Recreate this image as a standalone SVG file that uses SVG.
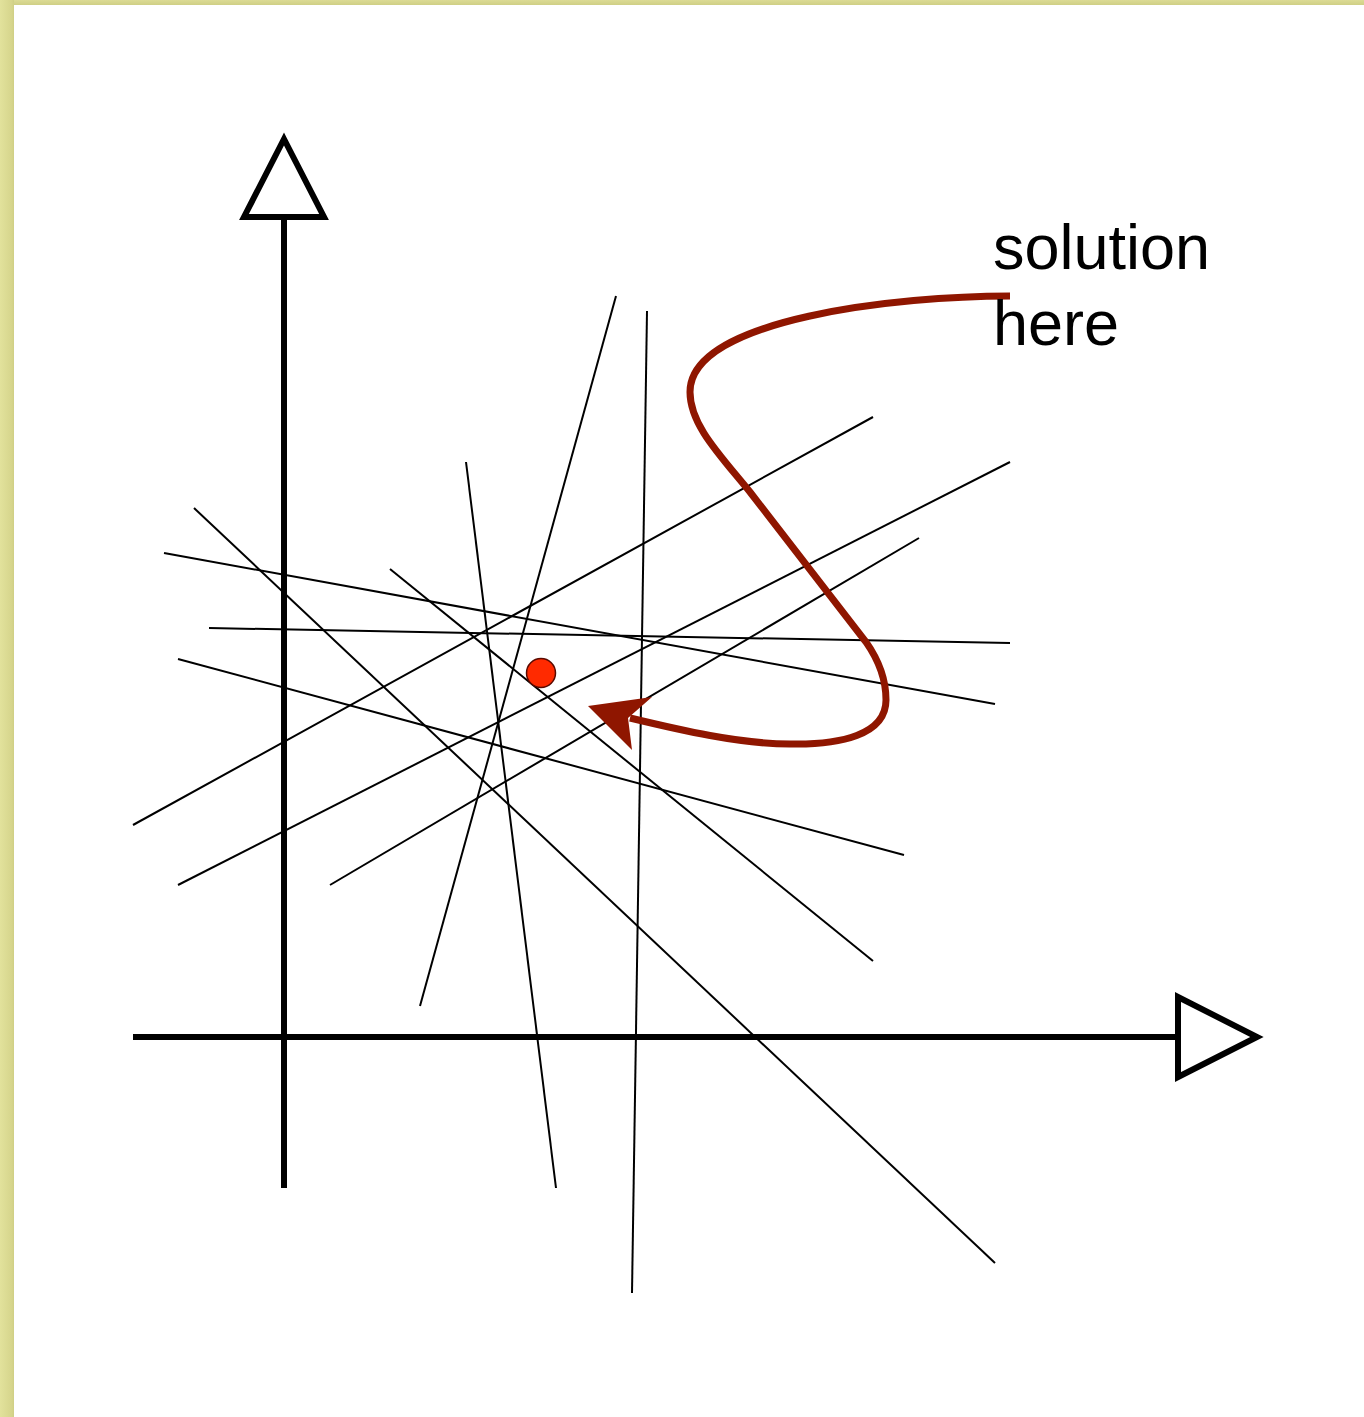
<svg xmlns="http://www.w3.org/2000/svg" width="1364" height="1417" viewBox="0 0 1364 1417">
  <defs>
    <linearGradient id="gl" x1="0" y1="0" x2="1" y2="0">
      <stop offset="0" stop-color="#e2e29c"/>
      <stop offset="0.85" stop-color="#d6d58c"/>
      <stop offset="1" stop-color="#cfcf85"/>
    </linearGradient>
    <linearGradient id="gt" x1="0" y1="0" x2="0" y2="1">
      <stop offset="0" stop-color="#dcdb95"/>
      <stop offset="1" stop-color="#cfcf85"/>
    </linearGradient>
    <style>
      .axis { stroke: #000; stroke-width: 6; fill: none; }
      .head { stroke: #000; stroke-width: 6; fill: #fff; stroke-linejoin: miter; }
      .ln { stroke: #000; stroke-width: 2; fill: none; }
      .curve { stroke: #8f1600; stroke-width: 7; fill: none; stroke-linecap: butt; }
      .lbl { font-family: "Liberation Sans", Arial, sans-serif; font-size: 63px; fill: #000; }
    </style>
  </defs>
  <rect x="0" y="0" width="1364" height="1417" fill="#ffffff"/>
  <rect x="0" y="0" width="1364" height="5" fill="url(#gt)"/>
  <rect x="0" y="0" width="14" height="1417" fill="url(#gl)"/>

  <g id="axes">
    <line class="axis" x1="284" y1="1188" x2="284" y2="217"/>
    <polygon class="head" points="284,139 324,217 244,217"/>
    <line class="axis" x1="133" y1="1037" x2="1178" y2="1037"/>
    <polygon class="head" points="1178,997 1257,1037 1178,1077"/>
  </g>

  <g id="connectors">
    <line class="ln" x1="616" y1="296" x2="420" y2="1006"/>
    <line class="ln" x1="647" y1="311" x2="632" y2="1293"/>
    <line class="ln" x1="873" y1="417" x2="133" y2="825"/>
    <line class="ln" x1="1010" y1="462" x2="178" y2="885"/>
    <line class="ln" x1="919" y1="538" x2="330" y2="885"/>
    <line class="ln" x1="466" y1="462" x2="556" y2="1188"/>
    <line class="ln" x1="194" y1="508" x2="995" y2="1263"/>
    <line class="ln" x1="164" y1="553" x2="995" y2="704"/>
    <line class="ln" x1="209" y1="628" x2="1010" y2="643"/>
    <line class="ln" x1="178" y1="659" x2="904" y2="855"/>
    <line class="ln" x1="390" y1="569" x2="873" y2="961"/>
  </g>

  <g id="solution-point">
    <circle cx="541" cy="673" r="14.5" fill="#ff2a00" stroke="#5a0a00" stroke-width="1.5"/>
  </g>

  <g id="pointer">
    <path class="curve" d="M1010,296 C900,296 690,318 690,392 C690,425 720,455 750,492 L866,642 C880,662 886,680 886,700 C886,735 840,745 790,744 C740,744 680,730 630,718"/>
    <polygon points="588,706 652,697 628,718 632,750" fill="#8f1600"/>
  </g>

  <g id="label">
    <text class="lbl" x="993" y="269">solution</text>
    <text class="lbl" x="993" y="345">here</text>
  </g>
</svg>
